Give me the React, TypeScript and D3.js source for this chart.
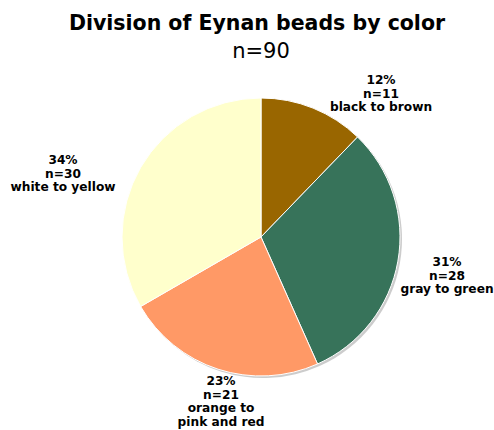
import React from "react";
import * as d3 from "d3";

const categories = ["black to brown", "gray to green", "orange to\npink and red", "white to yellow"];
const counts = [11, 28, 21, 30];
const percentLabels = ["12%", "31%", "23%", "34%"];
const colors = ["#996600", "#37735a", "#ff9966", "#ffffcc"];
const labelPos: [number, number][] = [
  [381, 84],
  [447, 266],
  [221, 385],
  [63, 164],
];

export default function App() {
  const W = 494, H = 430;
  const cx = 261, cy = 237, r = 139;
  const total = d3.sum(counts);
  const pie = d3.pie<number>().sort(null).value((d) => d);
  const arcs = pie(counts);
  const arc = d3.arc<d3.PieArcDatum<number>>().innerRadius(0).outerRadius(r);
  const font = "Verdana, 'DejaVu Sans', sans-serif";
  return (
    <svg width={W} height={H} style={{ position: "absolute", left: 0, top: 0 }}>
      <rect width={W} height={H} fill="#fff" />
      <text x={257} y={30} textAnchor="middle" fontFamily={font} fontWeight="bold" fontSize={20.5}>
        Division of Eynan beads by color
      </text>
      <text x={261} y={58} textAnchor="middle" fontFamily={font} fontSize={21}>
        n={total}
      </text>
      <g transform={`translate(${cx + 2},${cy + 2})`}>
        {arcs.map((a, i) => (
          <path key={i} d={arc(a) || ""} fill="#999" opacity={0.5} />
        ))}
      </g>
      <g transform={`translate(${cx},${cy})`}>
        {arcs.map((a, i) => (
          <path key={i} d={arc(a) || ""} fill={colors[i]} stroke="#fff" strokeWidth={1} />
        ))}
      </g>
      {counts.map((c, i) => {
        const lines = [percentLabels[i], `n=${c}`, ...categories[i].split("\n")];
        return (
          <text key={i} textAnchor="middle" fontFamily={font} fontWeight="bold" fontSize={12.2} fill="#000">
            {lines.map((l, j) => (
              <tspan key={j} x={labelPos[i][0]} y={labelPos[i][1] + j * 13.5}>
                {l}
              </tspan>
            ))}
          </text>
        );
      })}
    </svg>
  );
}
